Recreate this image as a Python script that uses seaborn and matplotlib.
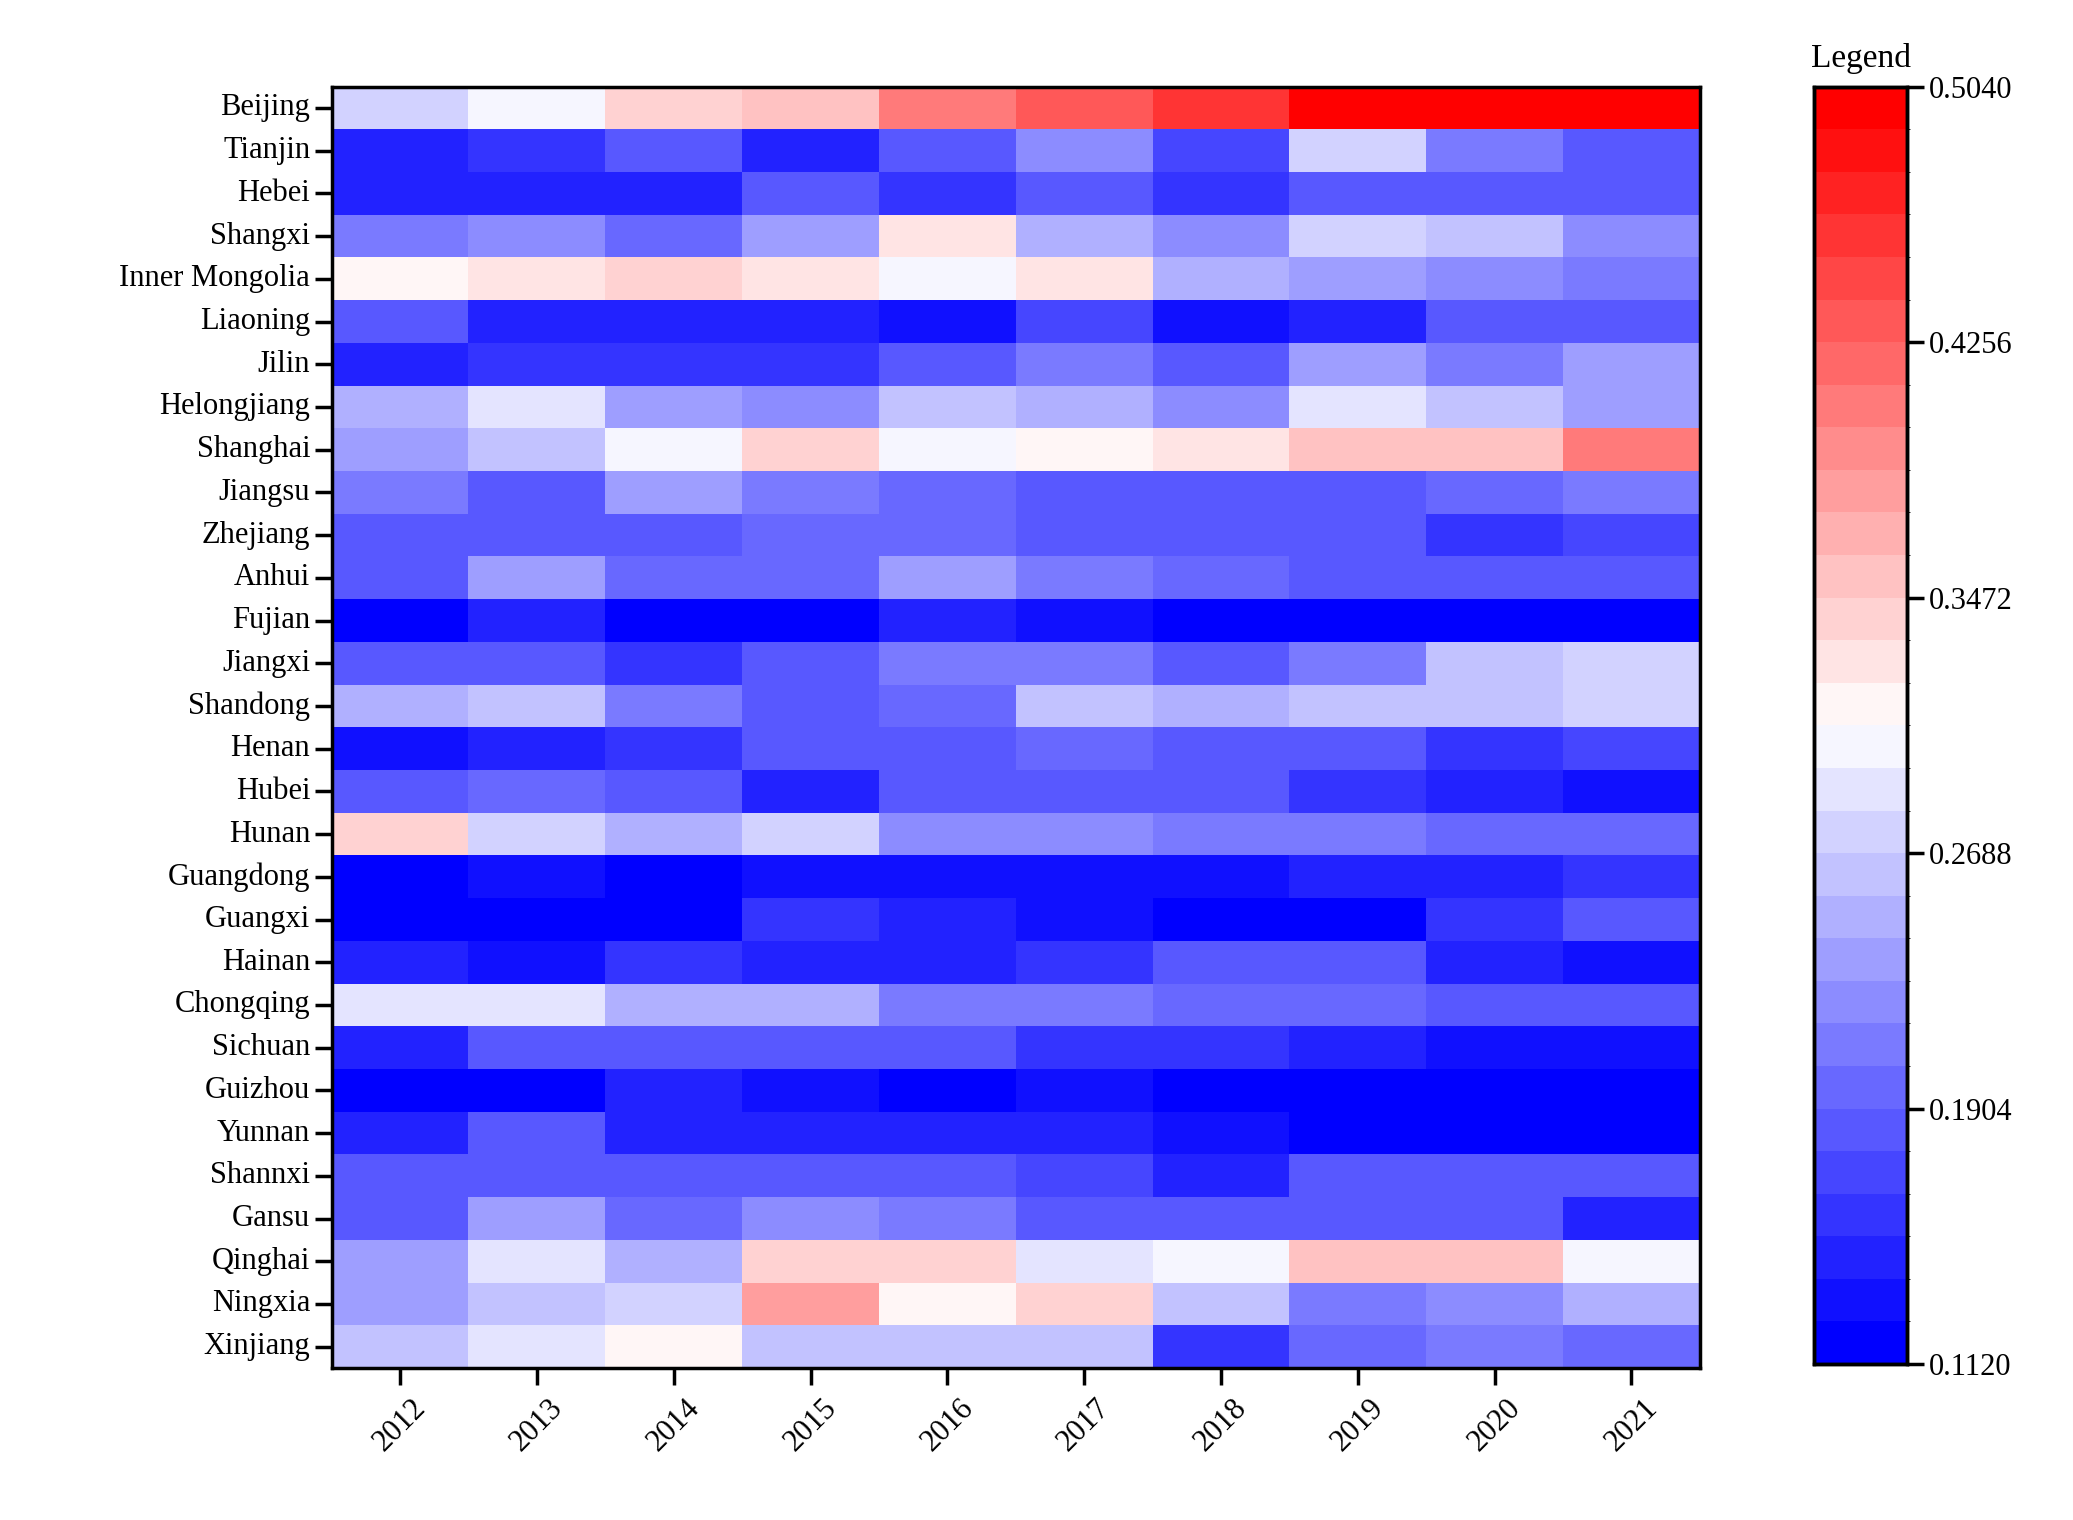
import numpy as np
import pandas as pd
import seaborn as sns
import matplotlib.pyplot as plt
from matplotlib.colors import ListedColormap, BoundaryNorm

provinces = ["Beijing", "Tianjin", "Hebei", "Shangxi", "Inner Mongolia", "Liaoning", "Jilin",
             "Helongjiang", "Shanghai", "Jiangsu", "Zhejiang", "Anhui", "Fujian", "Jiangxi",
             "Shandong", "Henan", "Hubei", "Hunan", "Guangdong", "Guangxi", "Hainan",
             "Chongqing", "Sichuan", "Guizhou", "Yunnan", "Shannxi", "Gansu", "Qinghai",
             "Ningxia", "Xinjiang"]
years = [str(y) for y in range(2012, 2022)]

values = [
    [0.27, 0.30, 0.345, 0.35, 0.41, 0.43, 0.46, 0.50, 0.50, 0.50],
    [0.14, 0.16, 0.19, 0.15, 0.19, 0.22, 0.17, 0.27, 0.21, 0.19],
    [0.14, 0.14, 0.14, 0.18, 0.16, 0.19, 0.16, 0.18, 0.19, 0.18],
    [0.21, 0.22, 0.20, 0.23, 0.33, 0.25, 0.22, 0.27, 0.26, 0.22],
    [0.32, 0.33, 0.34, 0.33, 0.30, 0.33, 0.25, 0.23, 0.22, 0.21],
    [0.19, 0.14, 0.14, 0.15, 0.13, 0.17, 0.13, 0.15, 0.18, 0.18],
    [0.14, 0.16, 0.16, 0.16, 0.18, 0.21, 0.19, 0.23, 0.21, 0.23],
    [0.25, 0.29, 0.23, 0.22, 0.26, 0.25, 0.22, 0.29, 0.26, 0.23],
    [0.23, 0.26, 0.30, 0.34, 0.30, 0.32, 0.33, 0.35, 0.35, 0.41],
    [0.21, 0.18, 0.23, 0.21, 0.20, 0.19, 0.19, 0.19, 0.20, 0.21],
    [0.19, 0.19, 0.19, 0.20, 0.20, 0.19, 0.18, 0.18, 0.16, 0.17],
    [0.19, 0.23, 0.20, 0.20, 0.23, 0.21, 0.20, 0.18, 0.19, 0.19],
    [0.115, 0.14, 0.115, 0.125, 0.14, 0.13, 0.12, 0.12, 0.115, 0.115],
    [0.19, 0.18, 0.16, 0.18, 0.21, 0.21, 0.19, 0.21, 0.26, 0.27],
    [0.25, 0.26, 0.21, 0.18, 0.20, 0.26, 0.25, 0.26, 0.26, 0.27],
    [0.13, 0.14, 0.16, 0.19, 0.19, 0.20, 0.19, 0.18, 0.16, 0.17],
    [0.19, 0.20, 0.19, 0.15, 0.19, 0.19, 0.18, 0.16, 0.14, 0.13],
    [0.34, 0.27, 0.25, 0.27, 0.22, 0.22, 0.21, 0.21, 0.20, 0.20],
    [0.115, 0.13, 0.115, 0.13, 0.13, 0.13, 0.13, 0.15, 0.15, 0.16],
    [0.115, 0.115, 0.115, 0.16, 0.14, 0.13, 0.115, 0.12, 0.16, 0.19],
    [0.14, 0.13, 0.16, 0.14, 0.14, 0.16, 0.18, 0.18, 0.14, 0.13],
    [0.29, 0.29, 0.25, 0.25, 0.21, 0.21, 0.20, 0.20, 0.19, 0.19],
    [0.14, 0.18, 0.18, 0.18, 0.18, 0.16, 0.16, 0.14, 0.13, 0.13],
    [0.115, 0.12, 0.14, 0.13, 0.115, 0.13, 0.115, 0.115, 0.115, 0.115],
    [0.15, 0.18, 0.14, 0.14, 0.15, 0.14, 0.13, 0.12, 0.115, 0.115],
    [0.19, 0.19, 0.18, 0.19, 0.19, 0.17, 0.14, 0.19, 0.19, 0.19],
    [0.19, 0.23, 0.20, 0.22, 0.21, 0.19, 0.18, 0.18, 0.19, 0.15],
    [0.23, 0.29, 0.25, 0.345, 0.345, 0.29, 0.30, 0.35, 0.35, 0.30],
    [0.23, 0.26, 0.27, 0.385, 0.32, 0.34, 0.26, 0.21, 0.22, 0.25],
    [0.26, 0.29, 0.32, 0.26, 0.26, 0.26, 0.16, 0.20, 0.21, 0.20],
]
cbar_ticks = [0.1120, 0.1904, 0.2688, 0.3472, 0.4256, 0.5040]

df = pd.DataFrame(values, index=provinces, columns=years)

plt.rcParams['font.family'] = ['Liberation Serif']
plt.rcParams['font.size'] = 22

# discrete blue-white-red map, 30 steps
vmin, vmax = 0.112, 0.504
bounds = np.linspace(vmin, vmax, 31)
cmap = ListedColormap(plt.get_cmap('bwr')(np.linspace(0, 1, 30)))
norm = BoundaryNorm(bounds, cmap.N)

fig = plt.figure(figsize=(20.73, 15.2), dpi=100)
ax = fig.add_axes([0.160, 0.100, 0.660, 0.843])
cax = fig.add_axes([0.875, 0.1026, 0.045, 0.8404])

sns.heatmap(df, ax=ax, cmap=cmap, norm=norm, cbar_ax=cax,
            cbar_kws={'ticks': cbar_ticks, 'format': '%.4f'})

ax.tick_params(axis='both', direction='out', length=12, width=2.5, labelsize=22)
ax.set_xticklabels(years, rotation=45, ha='center', va='top')
ax.set_yticklabels(provinces, rotation=0)
ax.tick_params(axis='x', pad=6)
for s in ax.spines.values():
    s.set_visible(True)
    s.set_linewidth(2.5)

cax.tick_params(direction='out', length=12, width=2.5, labelsize=22)
for s in cax.spines.values():
    s.set_visible(True)
    s.set_linewidth(2.5)
cax.set_title('Legend', fontsize=24, pad=14)

fig.savefig('out.png', dpi=100)
